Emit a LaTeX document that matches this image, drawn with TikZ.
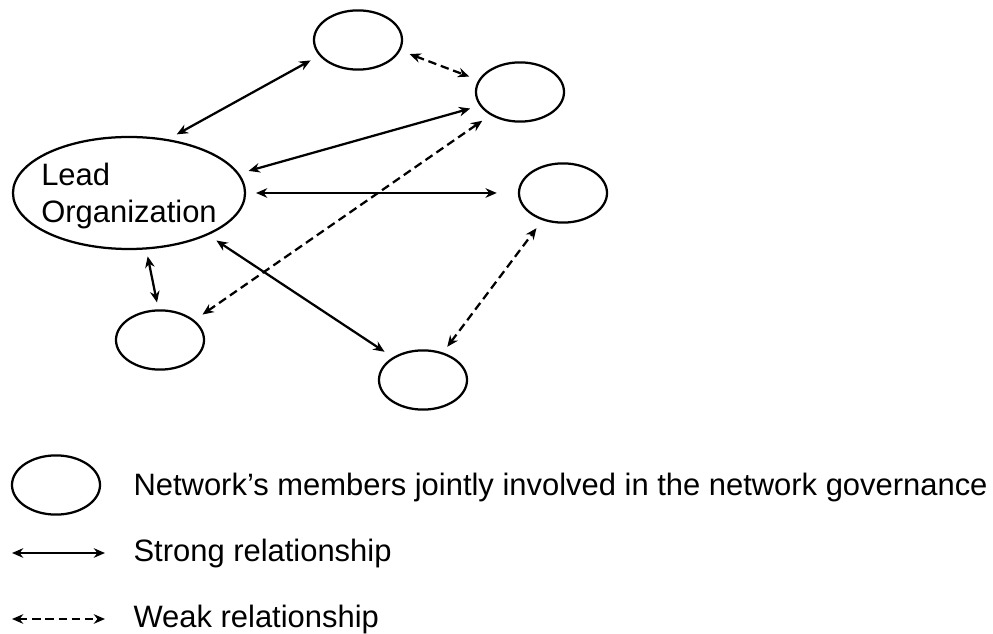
\documentclass[tikz,border=0pt]{standalone}
\usepackage{fontspec}
\setmainfont{Liberation Sans}
\usepackage{tikz}
\usetikzlibrary{arrows.meta,positioning,shapes.geometric}

\begin{document}
\begin{tikzpicture}[x=0.0125cm, y=-0.0125cm,
    member/.style={draw, ellipse, line width=0.8pt, minimum width=1.1cm,
                   minimum height=0.74cm, inner sep=0pt},
    link/.style={{Stealth[length=4pt,width=3.4pt]}-{Stealth[length=4pt,width=3.4pt]},
                 line width=0.8pt, shorten <=3.5pt, shorten >=3.5pt},
    strong/.style={link},
    weak/.style={link, dash pattern=on 3pt off 1.7pt},
    lbl/.style={font=\fontsize{11}{13.2}\selectfont, inner sep=0pt},
  ]
    \useasboundingbox (0,0) rectangle (993,634);
    % network members
    \node[member, minimum width=2.9cm, minimum height=1.4cm] (lead) at (129,193) {};
    \node[lbl, align=left] (leadtxt) at ([yshift=-1.2pt]lead.center) {Lead\\Organization};
    \node[member] (top)  at (358,40)  {};
    \node[member] (rtop) at (520,92)  {};
    \node[member] (rmid) at (563,193) {};
    \node[member] (bl)   at (160,340) {};
    \node[member] (bm)   at (423,380) {};
    % relationships
    \draw[strong] (lead.54)  -- (top.202);
    \draw[weak]   (top.346)  -- (rtop.164);
    \draw[strong] (lead.10)  -- (rtop.199);
    \draw[strong, shorten >=7.5pt] (lead.0) -- (rmid.180);
    \draw[weak]   (bl.30)    -- (rtop.218);
    \draw[strong, shorten <=2.5pt, shorten >=2.5pt] (lead.287) -- (bl.93);
    \draw[strong] (lead.332) -- (bm.143);
    \draw[weak, shorten <=2.5pt] (bm.54) -- (rmid.233);
    % legend
    \node[member] (keymember) at (56,485) {};
    \node[lbl, anchor=base west] (keytxt) at (133,495)
      {Network's members jointly involved in the network governance};
    \coordinate (s1) at (12,553);
    \coordinate (s2) at (105,553);
    \draw[strong, shorten <=0pt, shorten >=0pt] (s1) -- (s2);
    \node[lbl, anchor=base west] (strongtxt) at (133,561) {Strong relationship};
    \coordinate (w1) at (12,619);
    \coordinate (w2) at (105,619);
    \draw[weak, shorten <=0pt, shorten >=0pt] (w1) -- (w2);
    \node[lbl, anchor=base west] (weaktxt) at (133,627) {Weak relationship};
  \end{tikzpicture}
\end{document}
